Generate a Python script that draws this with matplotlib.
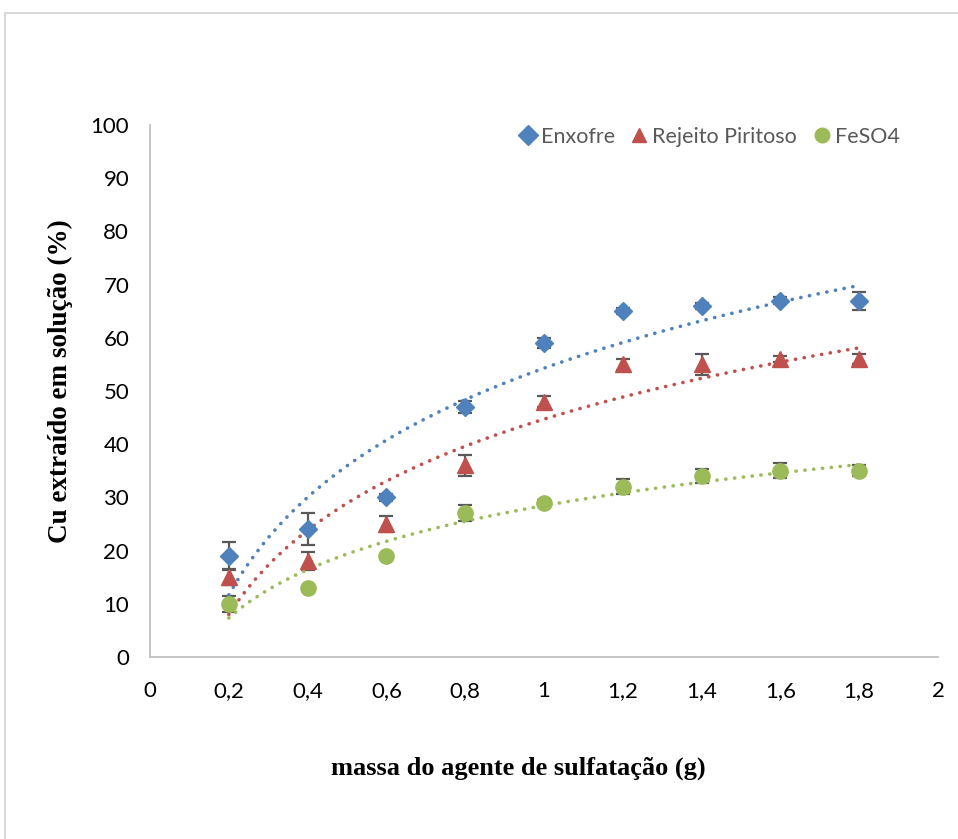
import matplotlib
matplotlib.use('Agg')
import matplotlib.pyplot as plt
import numpy as np
from matplotlib.lines import Line2D

massa = [0.2, 0.4, 0.6, 0.8, 1.0, 1.2, 1.4, 1.6, 1.8]

enxofre = [19, 24, 30, 47, 59, 65, 66, 67, 67]
enxofre_err = [2.7, 3.0, 0.6, 1.1, 1.0, 0.6, 0.6, 0.6, 1.7]

rejeito = [15, 18, 25, 36, 48, 55, 55, 56, 56]
rejeito_err = [1.5, 1.7, 1.5, 2.0, 1.0, 1.0, 2.0, 0.5, 1.0]

feso4 = [10, 13, 19, 27, 29, 32, 34, 35, 35]
feso4_err = [1.5, 0.0, 0.0, 1.5, 0.5, 1.4, 1.3, 1.4, 1.0]

series = [
    ('Enxofre', enxofre, enxofre_err, '#4F81BD', 'D', 9.5),
    ('Rejeito Piritoso', rejeito, rejeito_err, '#C0504D', '^', 11),
    ('FeSO4', feso4, feso4_err, '#9BBB59', 'o', 11),
]

tick_font = 'Lato'

fig = plt.figure(figsize=(9.58, 8.39), dpi=100)
ax = fig.add_axes([150/958, 1-657/839, 788/958, 532/839])

x = np.array(massa)
xs = np.linspace(0.2, 1.8, 200)
handles = []
for name, y, err, color, marker, ms in series:
    ax.errorbar(x, y, yerr=err, fmt='none', ecolor='#595959', elinewidth=1.6,
                capsize=5, capthick=1.6, zorder=2)
    # logarithmic trendline as in the spreadsheet
    a, b = np.polyfit(np.log(x), np.array(y, dtype=float), 1)
    ax.plot(xs, a*np.log(xs) + b, color=color, linewidth=2.6,
            linestyle=(0, (0.05, 2.4)), dash_capstyle='round', zorder=3)
    h, = ax.plot(x, y, linestyle='none', marker=marker, markersize=ms,
                 color=color, markeredgecolor=color, zorder=4, label=name)
    handles.append(h)

ax.set_xlim(0, 2)
ax.set_ylim(0, 100)
ax.set_xticks(np.arange(0, 2.01, 0.2))
ax.set_xticklabels(['0', '0,2', '0,4', '0,6', '0,8', '1', '1,2', '1,4', '1,6', '1,8', '2'])
ax.set_yticks(range(0, 101, 10))
ax.tick_params(length=0, labelsize=16, colors='black')
ax.tick_params(axis='x', pad=17)
ax.tick_params(axis='y', pad=15)
for lab in ax.get_xticklabels() + ax.get_yticklabels():
    lab.set_fontfamily(tick_font)
for s in ['top', 'right']:
    ax.spines[s].set_visible(False)
for s in ['left', 'bottom']:
    ax.spines[s].set_color('#BFBFBF')
    ax.spines[s].set_linewidth(1.3)

leg = fig.legend(handles=handles, ncol=3, frameon=False, loc='center right',
                 bbox_to_anchor=(919/958, 1-137/839), handletextpad=0.05,
                 columnspacing=0.6, handlelength=1.1,
                 prop={'family': tick_font, 'size': 15.5})
for t in leg.get_texts():
    t.set_color('#595959')
for h in leg.legend_handles:
    h.set_markersize(10.5)

fig.text(518/958, 1-768/839, 'massa do agente de sulfatação (g)', ha='center', va='center',
         fontsize=19, fontweight='bold', family='Liberation Serif')
fig.text(60/958, 1-381/839, 'Cu extraído em solução (%)', ha='center', va='center',
         rotation=90, fontsize=19.5, fontweight='bold', family='Liberation Serif')

# outer chart frame (partly cut off in the picture)
fig.add_artist(Line2D([5/958, 5/958], [0, 1-13/839], transform=fig.transFigure,
                      color='#D9D9D9', linewidth=1.5))
fig.add_artist(Line2D([5/958, 1], [1-13/839, 1-13/839], transform=fig.transFigure,
                      color='#D9D9D9', linewidth=1.5))

fig.savefig('out.png', dpi=100)
